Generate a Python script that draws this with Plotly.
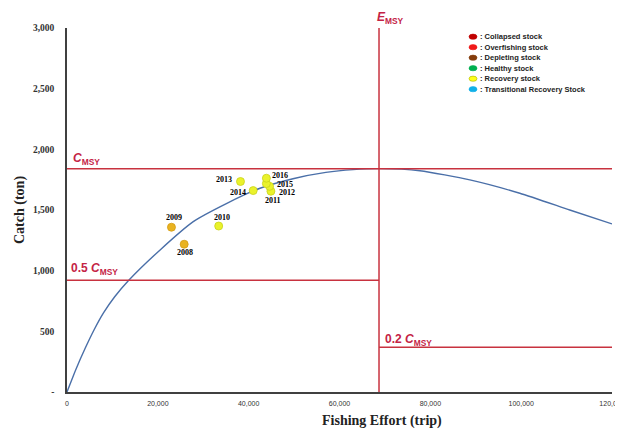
import plotly.graph_objects as go

# ---- data ----
E_MSY = 68700
C_MSY = 1840

curve_effort = [0, 2000, 4000, 6000, 8000, 10500, 13500, 20500, 27800, 35200, 42500, 50000, 57000,
                63000, 68700, 77700, 88700, 99700, 110700, 120000]
curve_catch = [0, 190, 360, 515, 650, 785, 917, 1171, 1404, 1555, 1679, 1760, 1810,
               1833, 1841, 1824, 1748, 1638, 1500, 1385]

years = ["2008", "2009", "2010", "2011", "2012", "2013", "2014", "2015", "2016"]
effort = [25800, 23000, 33400, 44900, 44600, 38200, 41000, 43900, 43900]
catch = [1218, 1358, 1368, 1655, 1695, 1735, 1660, 1718, 1762]
status = ["Depleting", "Depleting", "Recovery", "Recovery", "Recovery",
          "Recovery", "Recovery", "Recovery", "Recovery"]

legend_labels = [": Collapsed stock", ": Overfishing stock", ": Depleting stock",
                 ": Healthy stock", ": Recovery stock", ": Transitional Recovery Stock"]
legend_colors = ["#C00000", "#F01A1A", "#843C0C", "#00B050", "#FFFF1A", "#10B0E8"]

y_ticks = [0, 500, 1000, 1500, 2000, 2500, 3000]
y_ticktext = ["-", "500", "1,000", "1,500", "2,000", "2,500", "3,000"]
x_ticks = [0, 20000, 40000, 60000, 80000, 100000, 120000]
x_ticktext = ["0", "20,000", "40,000", "60,000", "80,000", "100,000", "120,000"]

# ---- styles ----
RED = "#C8323F"
RED_TXT = "#C42345"
point_fill = {"Depleting": "#E9B321", "Recovery": "#EAF22B"}
point_line = {"Depleting": "#D49C12", "Recovery": "#C9D31C"}
# pixel offsets of year labels (dx, dy)
label_offsets = {"2008": (1, -8), "2009": (3, 10), "2010": (3, 9), "2011": (2, -9),
                 "2012": (17, -6), "2013": (-16, 2), "2014": (-15, -2),
                 "2015": (19, -1), "2016": (14, 3)}

# page offset (body margin) compensation
OFF = 8
W, H = 623, 433
PL, PR, PT, PB = 67, 612, 28, 392          # target plot box in window pixels
ML, MT = PL - OFF, PT - OFF
MR, MB = W - (PR - OFF), H - (PB - OFF)
PW, PH = PR - PL, PB - PT


def px_x(px):
    return (px - PL) / PW


def px_y(py):
    return (PB - py) / PH


fig = go.Figure()

fig.add_trace(go.Scatter(x=curve_effort, y=curve_catch, mode="lines",
                         line=dict(color="#4A6FA8", width=1.4, shape="spline", smoothing=0.6),
                         hoverinfo="skip", showlegend=False))

fig.add_trace(go.Scatter(
    x=effort, y=catch, mode="markers", hoverinfo="skip",
    marker=dict(size=8, color=[point_fill[s] for s in status],
                line=dict(color=[point_line[s] for s in status], width=0.8)),
    showlegend=False))

# reference lines
fig.add_shape(type="line", x0=0, x1=120000, y0=C_MSY, y1=C_MSY, xref="x", yref="y",
              line=dict(color=RED, width=1.5))
fig.add_shape(type="line", x0=0, x1=E_MSY, y0=0.5 * C_MSY, y1=0.5 * C_MSY, xref="x", yref="y",
              line=dict(color=RED, width=1.5))
fig.add_shape(type="line", x0=E_MSY, x1=120000, y0=0.2 * C_MSY, y1=0.2 * C_MSY, xref="x", yref="y",
              line=dict(color=RED, width=1.5))
fig.add_shape(type="line", x0=E_MSY, x1=E_MSY, y0=0, y1=3000, xref="x", yref="y",
              line=dict(color=RED, width=1.5))

lab_font = dict(family="Liberation Sans, Arial", size=12, color=RED_TXT, weight="bold")
fig.add_annotation(x=0, y=C_MSY, xref="x", yref="y", xanchor="left", yanchor="bottom",
                   xshift=4, yshift=0, showarrow=False,
                   text="<i>C</i><sub>MSY</sub>", font=lab_font)
fig.add_annotation(x=0, y=0.5 * C_MSY, xref="x", yref="y", xanchor="left", yanchor="bottom",
                   xshift=2, yshift=1, showarrow=False,
                   text="0.5 <i>C</i><sub>MSY</sub>", font=lab_font)
fig.add_annotation(x=E_MSY, y=0.2 * C_MSY, xref="x", yref="y", xanchor="left", yanchor="bottom",
                   xshift=4, yshift=-3, showarrow=False,
                   text="0.2 <i>C</i><sub>MSY</sub>", font=lab_font)
fig.add_annotation(x=E_MSY, y=3000, xref="x", yref="y", xanchor="left", yanchor="bottom",
                   xshift=-4, yshift=0, showarrow=False,
                   text="<i>E</i><sub>MSY</sub>", font=lab_font)

# year labels
for yr, ex, ct in zip(years, effort, catch):
    dx, dy = label_offsets[yr]
    fig.add_annotation(x=ex, y=ct, xref="x", yref="y", showarrow=False, text=yr,
                       xshift=dx, yshift=dy,
                       font=dict(family="Liberation Serif, Times New Roman", size=8,
                                 color="black", weight="bold"))

# custom legend
LX, LY = px_x(473), px_y(36.7)
for i, (lbl, col) in enumerate(zip(legend_labels, legend_colors)):
    off = -i * 10.5
    fig.add_shape(type="circle", xref="paper", yref="paper", xsizemode="pixel",
                  ysizemode="pixel", xanchor=LX, yanchor=LY,
                  x0=-4, x1=4, y0=off - 2.6, y1=off + 2.6,
                  fillcolor=col, line=dict(color="#A8B400" if col == "#FFFF1A" else col, width=0.6))
    fig.add_annotation(x=LX, y=LY, xref="paper", yref="paper", xanchor="left", yanchor="middle",
                       xshift=5, yshift=off, showarrow=False, text=lbl,
                       font=dict(family="Liberation Sans Narrow, Arial Narrow, Liberation Sans",
                                 size=7.5, color="#222222", weight="bold"))

# axis titles
title_font = dict(family="Liberation Serif, Times New Roman", size=14, color="#222222", weight="bold")
fig.add_annotation(x=px_x(382), y=px_y(421), xref="paper", yref="paper", showarrow=False,
                   xanchor="center", yanchor="middle", text="Fishing Effort (trip)", font=title_font)
fig.add_annotation(x=px_x(20), y=px_y(210), xref="paper", yref="paper", showarrow=False,
                   xanchor="center", yanchor="middle", textangle=-90, text="Catch (ton)", font=title_font)

fig.update_layout(
    width=W, height=H,
    margin=dict(l=ML, r=MR, t=MT, b=MB, autoexpand=False),
    paper_bgcolor="white", plot_bgcolor="white",
    showlegend=False, hovermode=False,
    xaxis=dict(range=[0, 120000], tickvals=x_ticks, ticktext=x_ticktext, showgrid=False,
               zeroline=False, showline=True, linecolor="#404040", linewidth=1.6,
               ticks="", ticklabelstandoff=4, automargin=False,
               tickfont=dict(family="Liberation Sans, Arial", size=7, color="#333333")),
    yaxis=dict(range=[0, 3000], tickvals=y_ticks, ticktext=y_ticktext, showgrid=False,
               zeroline=False, showline=True, linecolor="#404040", linewidth=1.6,
               ticks="", ticklabelstandoff=9, automargin=False,
               tickfont=dict(family="Liberation Serif, Times New Roman", size=9.5,
                             color="#333333", weight="bold")),
)

fig.write_html("out.html")
